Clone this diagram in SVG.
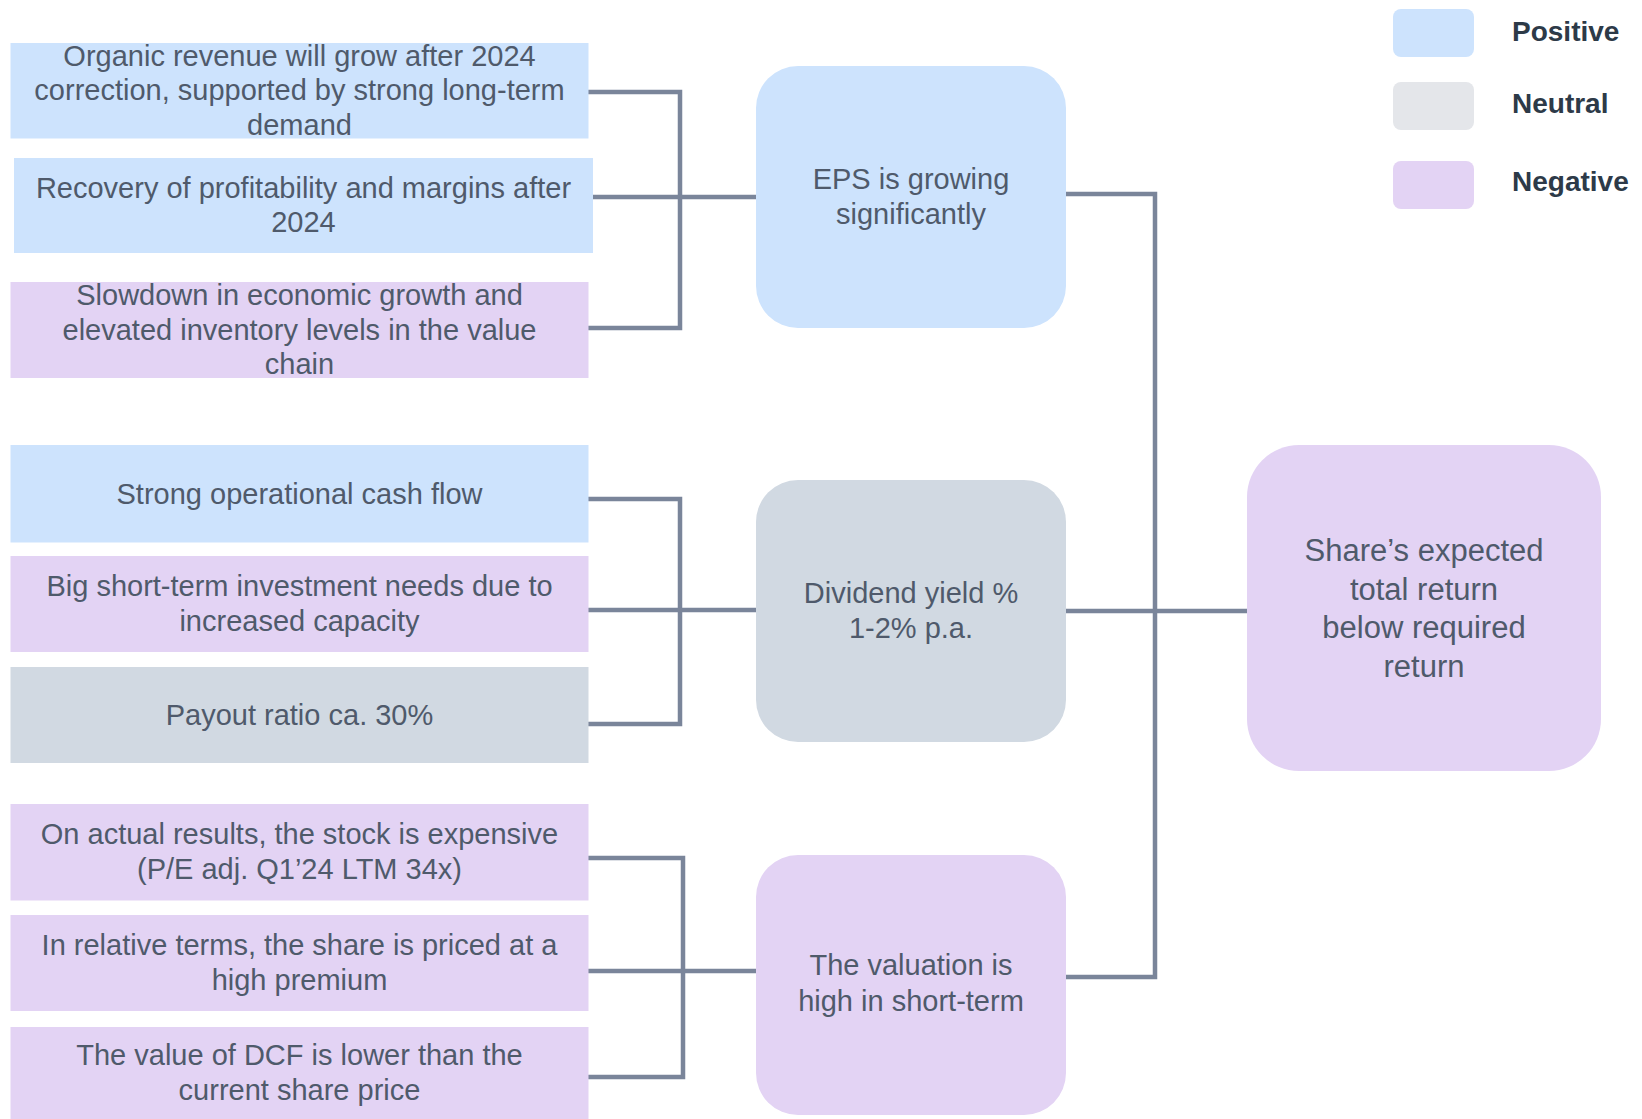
<svg xmlns="http://www.w3.org/2000/svg" width="1642" height="1119" viewBox="0 0 1642 1119">
<style>
.pos{fill:#cde3fd}
.neg{fill:#e3d3f4}
.neu{fill:#d1d9e2}
.t{font-family:"Liberation Sans",Arial,sans-serif;font-size:29px;fill:#4f5a6b;text-anchor:middle}
.tb{font-size:31px}
.lg{font-family:"Liberation Sans",Arial,sans-serif;font-size:28px;font-weight:bold;fill:#2d3a48}
.c{fill:none;stroke:#7a859a;stroke-width:4.5;stroke-linejoin:miter}
</style>
<rect width="1642" height="1119" fill="#ffffff"/>
<g id="legend">
<rect x="1393" y="9" width="81" height="48" rx="8" class="pos"/>
<text x="1512" y="40.5" class="lg">Positive</text>
<rect x="1393" y="82" width="81" height="48" rx="8" fill="#e4e6ea"/>
<text x="1512" y="112.5" class="lg">Neutral</text>
<rect x="1393" y="161" width="81" height="48" rx="8" class="neg"/>
<text x="1512" y="190.5" class="lg">Negative</text>
</g>
<g id="connectors">
<path class="c" d="M588 92 H680 V328 H588"/>
<path class="c" d="M593 197 H756"/>
<path class="c" d="M588 499 H680 V724 H588"/>
<path class="c" d="M588 610 H756"/>
<path class="c" d="M588 858 H683 V1077 H588"/>
<path class="c" d="M588 971 H756"/>
<path class="c" d="M1065 194 H1155 V977 H1065"/>
<path class="c" d="M1065 611 H1247"/>
</g>
<g id="n1">
<rect x="10.5" y="43" width="578" height="95.5" class="pos"/>
<text class="t" x="299.5" y="65.5">Organic revenue will grow after 2024</text>
<text class="t" x="299.5" y="100">correction, supported by strong long-term</text>
<text class="t" x="299.5" y="134.5">demand</text>
</g>
<g id="n2">
<rect x="14" y="158" width="579" height="95" class="pos"/>
<text class="t" x="303.5" y="197.5">Recovery of profitability and margins after</text>
<text class="t" x="303.5" y="232">2024</text>
</g>
<g id="n3">
<rect x="10.5" y="282" width="578" height="96" class="neg"/>
<text class="t" x="299.5" y="305">Slowdown in economic growth and</text>
<text class="t" x="299.5" y="339.5">elevated inventory levels in the value</text>
<text class="t" x="299.5" y="374">chain</text>
</g>
<g id="n4">
<rect x="10.5" y="445" width="578" height="97.5" class="pos"/>
<text class="t" x="299.5" y="503.5">Strong operational cash flow</text>
</g>
<g id="n5">
<rect x="10.5" y="556" width="578" height="96" class="neg"/>
<text class="t" x="299.5" y="596">Big short-term investment needs due to</text>
<text class="t" x="299.5" y="631">increased capacity</text>
</g>
<g id="n6">
<rect x="10.5" y="667" width="578" height="96" class="neu"/>
<text class="t" x="299.5" y="724.5">Payout ratio ca. 30%</text>
</g>
<g id="n7">
<rect x="10.5" y="804" width="578" height="96.5" class="neg"/>
<text class="t" x="299.5" y="844">On actual results, the stock is expensive</text>
<text class="t" x="299.5" y="879">(P/E adj. Q1’24 LTM 34x)</text>
</g>
<g id="n8">
<rect x="10.5" y="915" width="578" height="96" class="neg"/>
<text class="t" x="299.5" y="955">In relative terms, the share is priced at a</text>
<text class="t" x="299.5" y="990">high premium</text>
</g>
<g id="n9">
<rect x="10.5" y="1027" width="578" height="92" class="neg"/>
<text class="t" x="299.5" y="1064.5">The value of DCF is lower than the</text>
<text class="t" x="299.5" y="1099.5">current share price</text>
</g>
<g id="eps">
<rect x="756" y="66" width="310" height="262" rx="42" class="pos"/>
<text class="t" x="911" y="189">EPS is growing</text>
<text class="t" x="911" y="224">significantly</text>
</g>
<g id="div">
<rect x="756" y="480" width="310" height="262" rx="42" class="neu"/>
<text class="t" x="911" y="602.5">Dividend yield %</text>
<text class="t" x="911" y="637.5">1-2% p.a.</text>
</g>
<g id="val">
<rect x="756" y="855" width="310" height="260" rx="42" class="neg"/>
<text class="t" x="911" y="975">The valuation is</text>
<text class="t" x="911" y="1010.5">high in short-term</text>
</g>
<g id="share">
<rect x="1247" y="445" width="354" height="326" rx="52" class="neg"/>
<text class="t tb" x="1424" y="561">Share’s expected</text>
<text class="t tb" x="1424" y="599.5">total return</text>
<text class="t tb" x="1424" y="638">below required</text>
<text class="t tb" x="1424" y="676.5">return</text>
</g>
</svg>
